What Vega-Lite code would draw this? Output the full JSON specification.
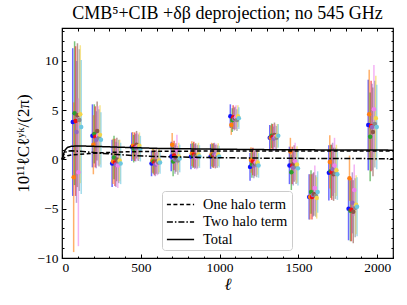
{
  "$schema": "https://vega.github.io/schema/vega-lite/v6.json",
  "width": 331,
  "height": 230,
  "autosize": {"type": "none"},
  "padding": {"left": 62, "top": 28, "right": 14, "bottom": 47},
  "background": "white",
  "config": {
    "view": {"stroke": "black", "strokeWidth": 1.2},
    "font": "Liberation Serif",
    "axis": {"domain": false, "grid": false, "labelFont": "Liberation Serif", "labelFontSize": 13.5, "labelColor": "black", "tickColor": "black", "titleFont": "Liberation Serif", "titleColor": "black", "titleFontWeight": "normal"}
  },
  "title": {"text": "CMB⁵+CIB +δβ deprojection; no 545 GHz", "font": "Liberation Serif", "fontSize": 18, "fontWeight": "normal", "color": "black", "offset": 5},
  "datasets": {
    "pts": [
      {"s":"a","l":68,"v":3.8,"e":7.5},{"s":"b","l":74,"v":-1.8,"e":7.6},{"s":"c","l":80,"v":4.7,"e":7.3},{"s":"d","l":86,"v":3.9,"e":7.6},{"s":"e","l":92,"v":2.8,"e":7.2},{"s":"f","l":98,"v":4.5,"e":7.3},{"s":"g","l":104,"v":-1.3,"e":7.5},{"s":"h","l":110,"v":4.0,"e":7.2},{"s":"i","l":116,"v":4.6,"e":7.0},{"s":"j","l":122,"v":3.3,"e":6.8},
      {"s":"a","l":193,"v":2.4,"e":3.2},{"s":"b","l":199,"v":1.5,"e":3.0},{"s":"c","l":205,"v":2.6,"e":3.0},{"s":"d","l":211,"v":2.3,"e":3.1},{"s":"e","l":217,"v":2.0,"e":2.9},{"s":"f","l":223,"v":2.9,"e":3.0},{"s":"g","l":229,"v":2.4,"e":3.0},{"s":"h","l":235,"v":2.2,"e":2.9},{"s":"i","l":241,"v":2.5,"e":3.0},{"s":"j","l":247,"v":2.0,"e":2.8},
      {"s":"a","l":318,"v":-0.4,"e":2.4},{"s":"b","l":324,"v":-0.2,"e":2.3},{"s":"c","l":330,"v":0.2,"e":2.2},{"s":"d","l":336,"v":-0.3,"e":2.4},{"s":"e","l":342,"v":-0.5,"e":2.3},{"s":"f","l":348,"v":0.0,"e":2.2},{"s":"g","l":354,"v":-0.6,"e":2.3},{"s":"h","l":360,"v":-0.2,"e":2.2},{"s":"i","l":366,"v":-0.1,"e":2.1},{"s":"j","l":372,"v":-0.4,"e":2.1},
      {"s":"a","l":443,"v":1.3,"e":1.45},{"s":"b","l":449,"v":1.4,"e":1.4},{"s":"c","l":455,"v":1.1,"e":1.4},{"s":"d","l":461,"v":1.3,"e":1.45},{"s":"e","l":467,"v":1.2,"e":1.4},{"s":"f","l":473,"v":1.5,"e":1.4},{"s":"g","l":479,"v":1.3,"e":1.4},{"s":"h","l":485,"v":1.2,"e":1.35},{"s":"i","l":491,"v":1.4,"e":1.35},{"s":"j","l":497,"v":1.1,"e":1.3},
      {"s":"a","l":568,"v":-0.4,"e":1.3},{"s":"b","l":574,"v":-0.1,"e":1.25},{"s":"c","l":580,"v":-0.2,"e":1.25},{"s":"d","l":586,"v":-0.3,"e":1.3},{"s":"e","l":592,"v":-0.5,"e":1.2},{"s":"f","l":598,"v":-0.2,"e":1.25},{"s":"g","l":604,"v":-0.4,"e":1.2},{"s":"h","l":610,"v":-0.3,"e":1.2},{"s":"i","l":616,"v":-0.1,"e":1.2},{"s":"j","l":622,"v":-0.3,"e":1.15},
      {"s":"a","l":693,"v":0.3,"e":1.5},{"s":"b","l":699,"v":1.5,"e":1.2},{"s":"c","l":705,"v":-0.2,"e":1.5},{"s":"d","l":711,"v":0.4,"e":1.5},{"s":"e","l":717,"v":0.0,"e":1.45},{"s":"f","l":723,"v":0.2,"e":1.45},{"s":"g","l":729,"v":1.0,"e":1.5},{"s":"h","l":735,"v":-0.1,"e":1.45},{"s":"i","l":741,"v":0.3,"e":1.4},{"s":"j","l":747,"v":0.1,"e":1.4},
      {"s":"a","l":818,"v":0.3,"e":1.3},{"s":"b","l":824,"v":0.6,"e":1.25},{"s":"c","l":830,"v":0.4,"e":1.25},{"s":"d","l":836,"v":0.5,"e":1.3},{"s":"e","l":842,"v":0.3,"e":1.25},{"s":"f","l":848,"v":0.4,"e":1.25},{"s":"g","l":854,"v":0.2,"e":1.2},{"s":"h","l":860,"v":0.3,"e":1.2},{"s":"i","l":866,"v":0.5,"e":1.2},{"s":"j","l":872,"v":0.3,"e":1.15},
      {"s":"a","l":943,"v":0.3,"e":1.25},{"s":"b","l":949,"v":0.5,"e":1.2},{"s":"c","l":955,"v":0.4,"e":1.2},{"s":"d","l":961,"v":0.4,"e":1.25},{"s":"e","l":967,"v":0.5,"e":1.2},{"s":"f","l":973,"v":0.3,"e":1.2},{"s":"g","l":979,"v":0.4,"e":1.2},{"s":"h","l":985,"v":0.3,"e":1.15},{"s":"i","l":991,"v":0.5,"e":1.15},{"s":"j","l":997,"v":0.3,"e":1.1},
      {"s":"a","l":1068,"v":4.4,"e":1.2},{"s":"b","l":1074,"v":3.5,"e":1.0},{"s":"c","l":1080,"v":4.0,"e":1.2},{"s":"d","l":1086,"v":4.3,"e":1.2},{"s":"e","l":1092,"v":4.1,"e":1.15},{"s":"f","l":1098,"v":4.2,"e":1.15},{"s":"g","l":1104,"v":4.3,"e":1.2},{"s":"h","l":1110,"v":4.0,"e":1.1},{"s":"i","l":1116,"v":4.4,"e":1.1},{"s":"j","l":1122,"v":4.2,"e":1.1},
      {"s":"a","l":1193,"v":-0.75,"e":1.4},{"s":"b","l":1199,"v":-0.05,"e":1.3},{"s":"c","l":1205,"v":-0.5,"e":1.35},{"s":"d","l":1211,"v":-0.2,"e":1.4},{"s":"e","l":1217,"v":-0.6,"e":1.3},{"s":"f","l":1223,"v":-0.4,"e":1.3},{"s":"g","l":1229,"v":-0.3,"e":1.3},{"s":"h","l":1235,"v":-0.5,"e":1.3},{"s":"i","l":1241,"v":-0.3,"e":1.25},{"s":"j","l":1247,"v":-0.6,"e":1.25},
      {"s":"a","l":1318,"v":2.2,"e":1.3},{"s":"b","l":1324,"v":2.2,"e":1.25},{"s":"c","l":1330,"v":2.4,"e":1.25},{"s":"d","l":1336,"v":2.3,"e":1.3},{"s":"e","l":1342,"v":2.1,"e":1.25},{"s":"f","l":1348,"v":2.5,"e":1.25},{"s":"g","l":1354,"v":2.3,"e":1.25},{"s":"h","l":1360,"v":2.2,"e":1.2},{"s":"i","l":1366,"v":2.4,"e":1.2},{"s":"j","l":1372,"v":2.4,"e":1.2},
      {"s":"a","l":1443,"v":-0.6,"e":1.9},{"s":"b","l":1449,"v":0.8,"e":1.4},{"s":"c","l":1455,"v":-1.3,"e":1.8},{"s":"d","l":1461,"v":-0.6,"e":1.9},{"s":"e","l":1467,"v":-0.8,"e":1.85},{"s":"f","l":1473,"v":-0.4,"e":1.85},{"s":"g","l":1479,"v":-0.2,"e":1.9},{"s":"h","l":1485,"v":-0.7,"e":1.8},{"s":"i","l":1491,"v":-0.5,"e":1.85},{"s":"j","l":1497,"v":-0.9,"e":1.75},
      {"s":"a","l":1568,"v":-3.8,"e":2.3},{"s":"b","l":1574,"v":-3.8,"e":2.3},{"s":"c","l":1580,"v":-3.3,"e":2.2},{"s":"d","l":1586,"v":-3.8,"e":2.3},{"s":"e","l":1592,"v":-3.6,"e":2.2},{"s":"f","l":1598,"v":-3.5,"e":2.2},{"s":"g","l":1604,"v":-2.9,"e":2.3},{"s":"h","l":1610,"v":-3.7,"e":2.1},{"s":"i","l":1616,"v":-3.9,"e":2.1},{"s":"j","l":1622,"v":-3.3,"e":2.1},
      {"s":"a","l":1693,"v":-1.35,"e":2.8},{"s":"b","l":1699,"v":-0.25,"e":2.7},{"s":"c","l":1705,"v":-1.2,"e":2.7},{"s":"d","l":1711,"v":-1.3,"e":2.8},{"s":"e","l":1717,"v":-1.0,"e":2.7},{"s":"f","l":1723,"v":-1.5,"e":2.7},{"s":"g","l":1729,"v":-0.6,"e":2.8},{"s":"h","l":1735,"v":-1.4,"e":2.6},{"s":"i","l":1741,"v":-1.1,"e":2.6},{"s":"j","l":1747,"v":-1.5,"e":2.6},
      {"s":"a","l":1818,"v":-5.0,"e":3.2},{"s":"b","l":1824,"v":-1.9,"e":2.3},{"s":"c","l":1830,"v":-5.2,"e":3.1},{"s":"d","l":1836,"v":-5.1,"e":3.2},{"s":"e","l":1842,"v":-4.4,"e":3.1},{"s":"f","l":1848,"v":-5.3,"e":3.2},{"s":"g","l":1854,"v":-3.1,"e":2.6},{"s":"h","l":1860,"v":-4.9,"e":3.0},{"s":"i","l":1866,"v":-4.6,"e":3.0},{"s":"j","l":1872,"v":-4.8,"e":3.0},
      {"s":"a","l":1943,"v":3.5,"e":4.6},{"s":"b","l":1949,"v":4.6,"e":4.5},{"s":"c","l":1955,"v":2.3,"e":4.5},{"s":"d","l":1961,"v":3.4,"e":4.6},{"s":"e","l":1967,"v":3.3,"e":4.4},{"s":"f","l":1973,"v":2.8,"e":4.5},{"s":"g","l":1979,"v":5.1,"e":4.5},{"s":"h","l":1985,"v":3.6,"e":4.4},{"s":"i","l":1991,"v":4.2,"e":4.3},{"s":"j","l":1997,"v":3.3,"e":4.3}
    ],
    "curves": [
      {"t":"One halo term","l":0,"v":0},{"t":"One halo term","l":10,"v":0.12},{"t":"One halo term","l":20,"v":0.25},{"t":"One halo term","l":35,"v":0.38},{"t":"One halo term","l":60,"v":0.47},{"t":"One halo term","l":100,"v":0.52},{"t":"One halo term","l":150,"v":0.58},{"t":"One halo term","l":250,"v":0.68},{"t":"One halo term","l":400,"v":0.78},{"t":"One halo term","l":600,"v":0.83},{"t":"One halo term","l":900,"v":0.86},{"t":"One halo term","l":1300,"v":0.87},{"t":"One halo term","l":1700,"v":0.87},{"t":"One halo term","l":2100,"v":0.87},
      {"t":"Two halo term","l":0,"v":0},{"t":"Two halo term","l":10,"v":0.45},{"t":"Two halo term","l":20,"v":0.72},{"t":"Two halo term","l":35,"v":0.85},{"t":"Two halo term","l":60,"v":0.88},{"t":"Two halo term","l":100,"v":0.85},{"t":"Two halo term","l":150,"v":0.78},{"t":"Two halo term","l":250,"v":0.63},{"t":"Two halo term","l":400,"v":0.45},{"t":"Two halo term","l":600,"v":0.3},{"t":"Two halo term","l":900,"v":0.2},{"t":"Two halo term","l":1300,"v":0.13},{"t":"Two halo term","l":1700,"v":0.1},{"t":"Two halo term","l":2100,"v":0.08},
      {"t":"Total","l":0,"v":0},{"t":"Total","l":10,"v":0.57},{"t":"Total","l":20,"v":0.97},{"t":"Total","l":35,"v":1.23},{"t":"Total","l":60,"v":1.35},{"t":"Total","l":100,"v":1.37},{"t":"Total","l":150,"v":1.36},{"t":"Total","l":250,"v":1.31},{"t":"Total","l":400,"v":1.23},{"t":"Total","l":600,"v":1.13},{"t":"Total","l":900,"v":1.06},{"t":"Total","l":1300,"v":1.0},{"t":"Total","l":1700,"v":0.97},{"t":"Total","l":2100,"v":0.95}
    ]
  },
  "layer": [
    {
      "mark": {"type": "rule", "color": "#b0b0b0", "strokeDash": [4, 3], "strokeWidth": 1},
      "encoding": {
        "y": {"datum": 0, "type": "quantitative", "scale": {"domain": [-10, 13.35], "nice": false, "zero": false},
          "axis": {"orient": "right", "values": [-10,-9,-8,-7,-6,-5,-4,-3,-2,-1,0,1,2,3,4,5,6,7,8,9,10,11,12,13], "labels": false, "tickSize": -2, "title": null}}
      }
    },
    {
      "data": {"name": "pts"},
      "mark": {"type": "errorbar", "ticks": false, "thickness": 1.5, "opacity": 0.62},
      "encoding": {
        "x": {"field": "l", "type": "quantitative", "scale": {"domain": [0, 2100], "nice": false, "zero": false},
          "axis": {"orient": "bottom", "values": [0, 500, 1000, 1500, 2000], "format": "d", "labelFont": "Liberation Serif", "tickSize": -4, "labelPadding": 6, "title": "ℓ", "titleFont": "Liberation Serif", "titleFontSize": 17, "titleFontStyle": "italic", "titlePadding": 3}},
        "y": {"field": "v", "type": "quantitative", "scale": {"domain": [-10, 13.35], "nice": false, "zero": false},
          "axis": {"orient": "left", "values": [-10, -5, 0, 5, 10], "labelFont": "Liberation Serif", "tickSize": -4, "labelPadding": 8, "title": "10¹¹ℓCℓʸᵏ/(2π)", "titleFont": "Liberation Serif", "titleFontSize": 17, "titlePadding": 4}},
        "yError": {"field": "e"},
        "color": {"field": "s", "type": "nominal", "legend": null,
          "scale": {"domain": ["a","b","c","d","e","f","g","h","i","j"], "range": ["#1010ff","#ff7f0e","#2ca02c","#ee1111","#9467bd","#8c564b","#ee82ee","#8a8a8a","#f2d54a","#6cc7e0"]}}
      }
    },
    {
      "data": {"name": "pts"},
      "mark": {"type": "point", "filled": true, "opacity": 1, "size": 20},
      "encoding": {
        "x": {"field": "l", "type": "quantitative", "scale": {"domain": [0, 2100], "nice": false, "zero": false},
          "axis": {"orient": "bottom", "values": [100,200,300,400,600,700,800,900,1100,1200,1300,1400,1600,1700,1800,1900,2100], "labels": false, "tickSize": -2, "title": null}},
        "y": {"field": "v", "type": "quantitative", "scale": {"domain": [-10, 13.35], "nice": false, "zero": false},
          "axis": {"orient": "left", "values": [-9,-8,-7,-6,-4,-3,-2,-1,1,2,3,4,6,7,8,9,11,12,13], "labels": false, "tickSize": -2, "title": null}},
        "color": {"field": "s", "type": "nominal", "legend": null}
      }
    },
    {
      "data": {"name": "curves"},
      "mark": {"type": "line", "color": "black", "strokeWidth": 1.5},
      "encoding": {
        "x": {"field": "l", "type": "quantitative", "scale": {"domain": [0, 2100], "nice": false, "zero": false},
          "axis": {"orient": "top", "values": [0,100,200,300,400,500,600,700,800,900,1000,1100,1200,1300,1400,1500,1600,1700,1800,1900,2000], "labels": false, "tickSize": -3, "title": null}},
        "y": {"field": "v", "type": "quantitative", "scale": {"domain": [-10, 13.35], "nice": false, "zero": false},
          "axis": {"orient": "right", "values": [-10, -5, 0, 5, 10], "labels": false, "tickSize": -4, "title": null}},
        "strokeDash": {"field": "t", "type": "nominal",
          "scale": {"domain": ["One halo term", "Two halo term", "Total"], "range": [[4, 2.5], [6, 2, 1.5, 2], [1, 0]]},
          "legend": {"title": null, "orient": "none", "legendX": 100, "legendY": 163, "symbolType": "M-1.6,0H1.6", "symbolSize": 289, "symbolOffset": 5, "symbolStrokeWidth": 1.5, "symbolStrokeColor": "black", "symbolFillColor": "transparent", "labelOffset": 13, "labelFont": "Liberation Serif", "labelFontSize": 14.5, "labelColor": "black", "padding": 4, "strokeColor": "#cccccc", "cornerRadius": 3, "fillColor": "white", "rowPadding": 1.5}},
        "detail": {"field": "t"}
      }
    }
  ],
  "resolve": {"axis": {"x": "independent", "y": "independent"}}
}
